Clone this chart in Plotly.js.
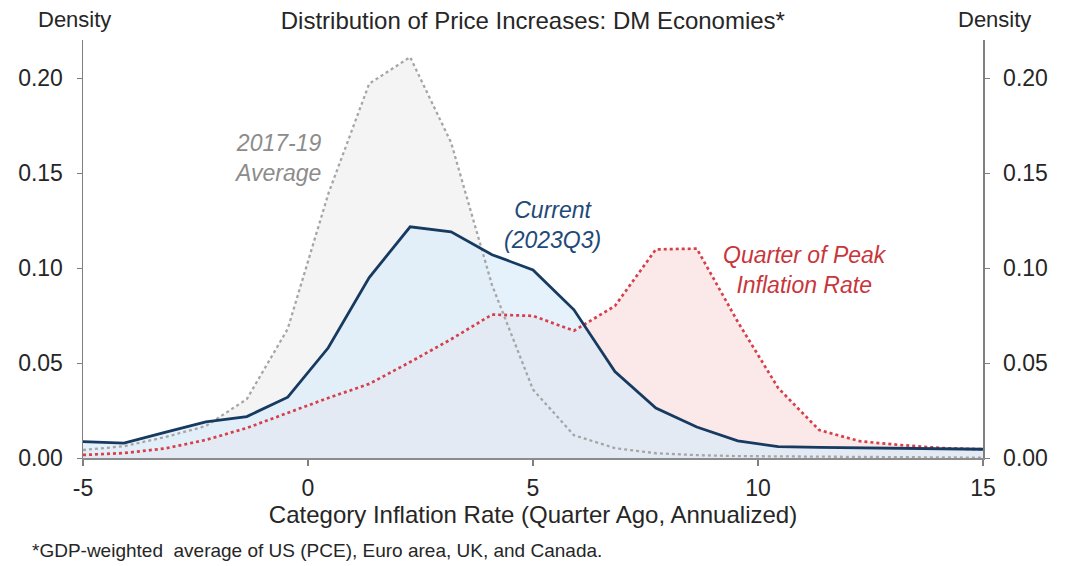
<!DOCTYPE html>
<html>
<head>
<meta charset="utf-8">
<script src="https://cdn.plot.ly/plotly-3.0.1.min.js"></script>
<style>html,body{margin:0;padding:0;background:#fff;}#chart{width:1070px;height:566px;}</style>
</head>
<body>
<div id="chart"></div>
<script>
// Category inflation rate bins (quarter ago, annualized)
const binCenters = [-5, -4.09, -3.18, -2.27, -1.36, -0.45, 0.45, 1.36, 2.27, 3.18, 4.09, 5, 5.91, 6.82, 7.73, 8.64, 9.55, 10.45, 11.36, 12.27, 13.18, 14.09, 15];
// Density: 2017-19 average
const avg2017_19 = [0.0042, 0.0062, 0.011, 0.0168, 0.031, 0.068, 0.139, 0.197, 0.211, 0.166, 0.091, 0.036, 0.012, 0.0052, 0.0025, 0.0015, 0.001, 0.0008, 0.0006, 0.0005, 0.0004, 0.0003, 0.0002];
// Density: current (2023Q3)
const current2023Q3 = [0.0086, 0.0078, 0.0135, 0.019, 0.0218, 0.032, 0.058, 0.095, 0.1217, 0.119, 0.107, 0.099, 0.078, 0.0455, 0.0263, 0.0163, 0.009, 0.006, 0.0056, 0.0053, 0.005, 0.0047, 0.0046];
// Density: quarter of peak inflation rate
const peakQuarter = [0.0016, 0.0026, 0.005, 0.0095, 0.0158, 0.0237, 0.0316, 0.0390, 0.0505, 0.0625, 0.0755, 0.0748, 0.067, 0.080, 0.1098, 0.1102, 0.0717, 0.0368, 0.0147, 0.0088, 0.0068, 0.0052, 0.0046];

const xTicks = [-5, 0, 5, 10, 15];
const yTicks = [0, 0.05, 0.10, 0.15, 0.20];
const yTickText = ["0.00", "0.05", "0.10", "0.15", "0.20"];

const FONT = "Liberation Sans, Arial, sans-serif";
const TXT = "#262626";

const traces = [
  // fills
  {x: binCenters, y: avg2017_19, mode: "lines", fill: "tozeroy", fillcolor: "#f4f4f4", line: {width: 0}, hoverinfo: "skip", showlegend: false},
  {x: binCenters, y: peakQuarter, mode: "lines", fill: "tozeroy", fillcolor: "#fbe8e8", line: {width: 0}, hoverinfo: "skip", showlegend: false},
  {x: binCenters, y: current2023Q3, mode: "lines", fill: "tozeroy", fillcolor: "rgba(218,235,249,0.7)", line: {width: 0}, hoverinfo: "skip", showlegend: false},
  // lines
  {x: binCenters, y: avg2017_19, mode: "lines", line: {color: "#a6a6a6", width: 2.3, dash: "dot"}, name: "2017-19 Average", showlegend: false},
  {x: binCenters, y: peakQuarter, mode: "lines", line: {color: "#d6404a", width: 2.7, dash: "dot"}, name: "Quarter of Peak Inflation Rate", showlegend: false},
  {x: binCenters, y: current2023Q3, mode: "lines", line: {color: "#163a60", width: 2.8}, name: "Current (2023Q3)", showlegend: false},
  // carrier for right axis
  {x: binCenters, y: current2023Q3, yaxis: "y2", mode: "lines", line: {width: 0}, hoverinfo: "skip", showlegend: false}
];

const yCommon = {
  range: [0, 0.22], autorange: false, tickvals: yTicks, ticktext: yTickText,
  showline: true, linecolor: "#7f7f7f", linewidth: 1.5, ticks: "outside", ticklen: 5, tickcolor: "#7f7f7f",
  showgrid: false, zeroline: false, tickfont: {family: FONT, size: 23, color: TXT}, ticklabelstandoff: 9
};

const layout = {
  width: 1070, height: 566,
  margin: {l: 83, r: 87, t: 40, b: 108},
  paper_bgcolor: "#ffffff", plot_bgcolor: "#ffffff",
  font: {family: FONT, color: TXT},
  title: {text: "Distribution of Price Increases: DM Economies*", x: 0.498, xanchor: "center", y: 0.963, yanchor: "middle", font: {family: FONT, size: 24, color: TXT}},
  xaxis: {
    range: [-5, 15], autorange: false, tickvals: xTicks, ticktext: xTicks.map(String),
    showline: true, linecolor: "#8c8c8c", linewidth: 2, ticks: "outside", ticklen: 6, tickcolor: "#7f7f7f", tickwidth: 1.5,
    showgrid: false, zeroline: false, tickfont: {family: FONT, size: 23, color: TXT}, ticklabelstandoff: 2,
    title: {text: "Category Inflation Rate (Quarter Ago, Annualized)", font: {family: FONT, size: 24, color: TXT}, standoff: 1}
  },
  yaxis: Object.assign({}, yCommon, {side: "left"}),
  yaxis2: Object.assign({}, yCommon, {side: "right", overlaying: "y"}),
  annotations: [
    {text: "Density", xref: "paper", yref: "paper", x: -0.01, y: 1, yshift: 21, xanchor: "center", yanchor: "middle", showarrow: false, font: {family: FONT, size: 22, color: TXT}},
    {text: "Density", xref: "paper", yref: "paper", x: 1.013, y: 1, yshift: 21, xanchor: "center", yanchor: "middle", showarrow: false, font: {family: FONT, size: 22, color: TXT}},
    {text: "<i>2017-19<br>Average</i>", x: 0.33, y: 0.158, xref: "x", yref: "y", xanchor: "right", yanchor: "middle", align: "right", showarrow: false, font: {family: FONT, size: 23, color: "#8c8c8c"}},
    {text: "<i>Current<br>(2023Q3)</i>", x: 5.44, y: 0.1226, xref: "x", yref: "y", xanchor: "center", yanchor: "middle", align: "center", showarrow: false, font: {family: FONT, size: 23, color: "#1f4a78"}},
    {text: "<i>Quarter of Peak<br>Inflation Rate</i>", x: 11.04, y: 0.099, xref: "x", yref: "y", xanchor: "center", yanchor: "middle", align: "center", showarrow: false, font: {family: FONT, size: 23, color: "#c8363c"}},
    {text: "*GDP-weighted  average of US (PCE), Euro area, UK, and Canada.", xref: "paper", yref: "paper", x: -0.059, y: 0, yshift: -92, xanchor: "left", yanchor: "middle", showarrow: false, font: {family: FONT, size: 19, color: TXT}}
  ]
};

Plotly.newPlot("chart", traces, layout, {staticPlot: true, displayModeBar: false});
</script>
</body>
</html>
